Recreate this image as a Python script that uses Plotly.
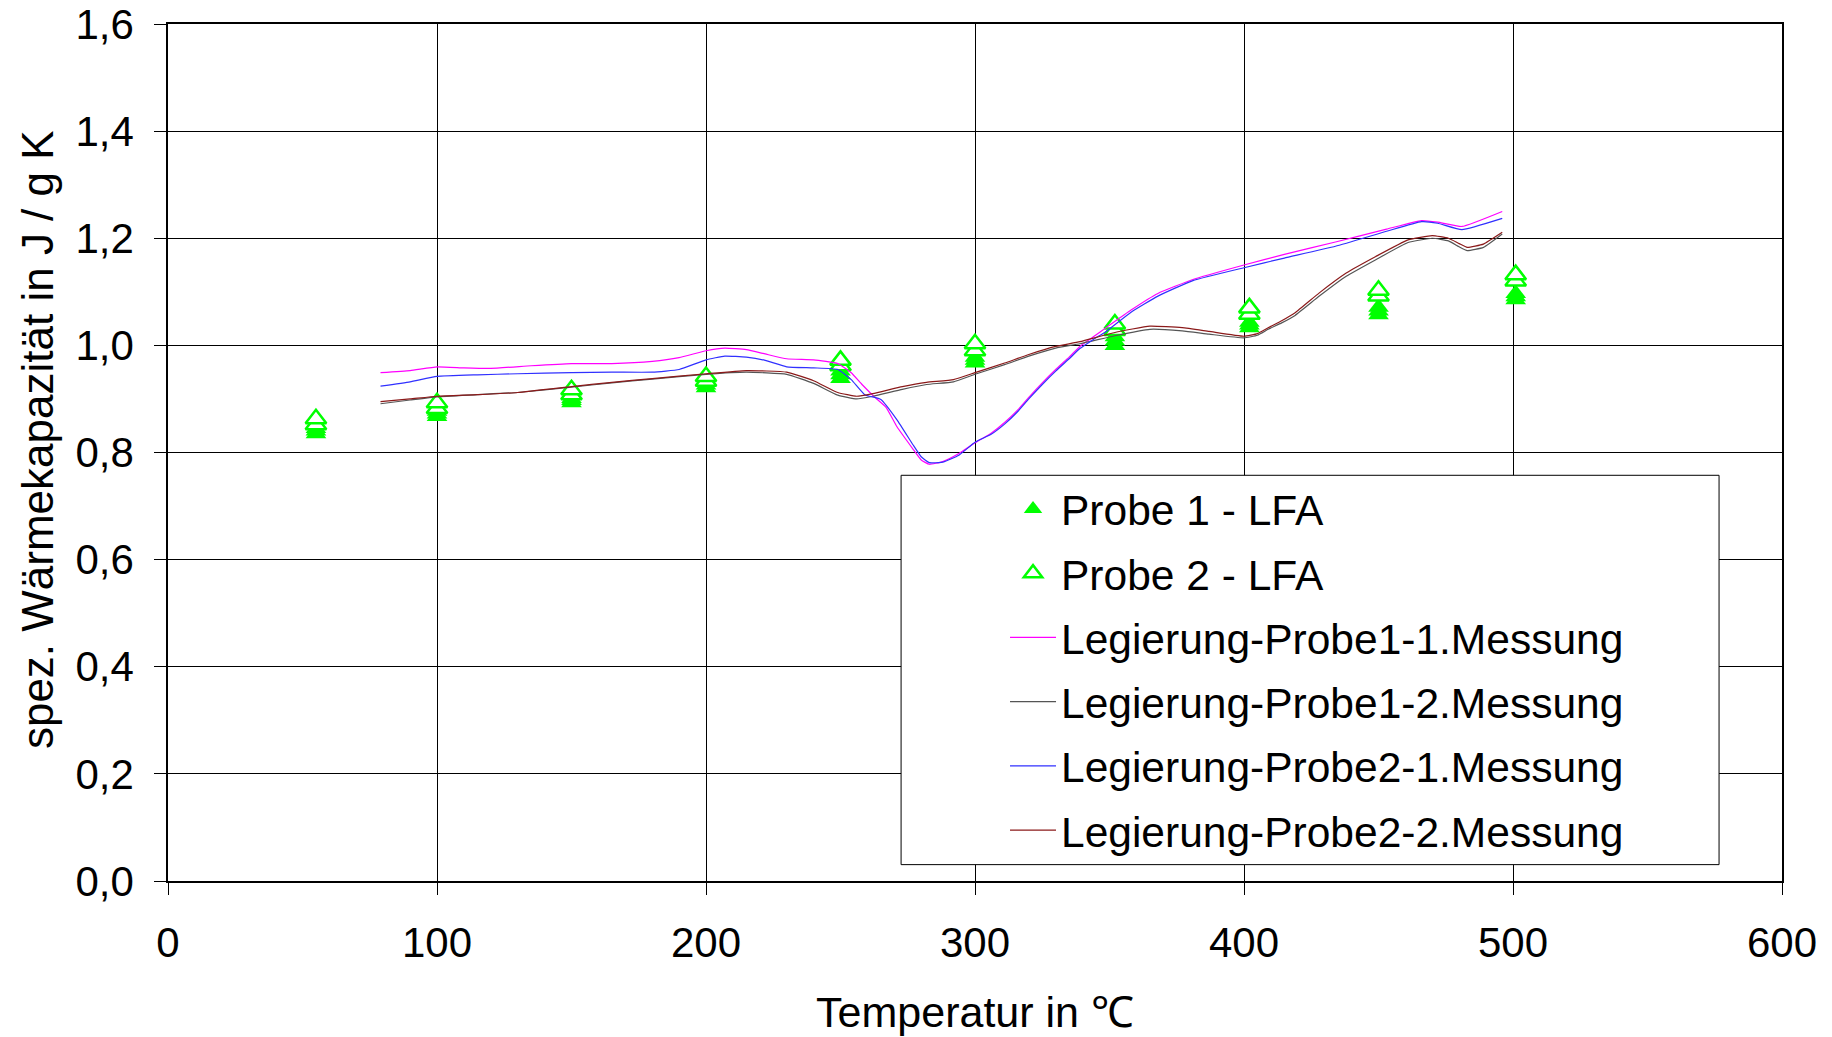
import plotly.graph_objects as go

# ---- LFA point measurements ----
p1_T = [55, 55, 55, 100, 100, 100, 150, 150, 150, 200, 200, 200, 250, 250, 250,
        300, 300, 300, 352, 352, 352, 402, 402, 402, 450, 450, 450, 501, 501, 501]
p1_cp = [0.835, 0.840, 0.845, 0.867, 0.872, 0.877, 0.893, 0.897, 0.901, 0.921, 0.926, 0.931,
         0.938, 0.945, 0.952, 0.967, 0.972, 0.978, 1.000, 1.008, 1.016, 1.033, 1.038, 1.043,
         1.057, 1.064, 1.071, 1.085, 1.091, 1.097]
p2_T = [55, 55, 100, 100, 150, 150, 200, 200, 250, 250, 300, 300, 352, 352, 402, 402,
        450, 450, 501, 501]
p2_cp = [0.852, 0.863, 0.882, 0.893, 0.908, 0.917, 0.933, 0.942, 0.962, 0.972, 0.990, 1.003,
         1.028, 1.040, 1.058, 1.070, 1.092, 1.103, 1.120, 1.132]

# ---- DSC curves ----
m11_T = [79, 90, 100, 110, 120, 135, 150, 165, 180, 190, 200, 207, 215, 222, 230, 240, 249,
         254, 258, 263, 267, 271, 277, 280, 283, 288, 294, 300, 306, 311, 316, 320, 325, 330,
         335, 339, 344, 349, 358, 368, 381, 400, 415, 434, 453, 466, 472, 481, 496]
m11_cp = [0.949, 0.953, 0.960, 0.958, 0.957, 0.962, 0.966, 0.966, 0.970, 0.977, 0.990, 0.995,
          0.992, 0.984, 0.975, 0.973, 0.966, 0.949, 0.927, 0.902, 0.884, 0.848, 0.806, 0.786,
          0.778, 0.783, 0.798, 0.818, 0.836, 0.856, 0.880, 0.903, 0.930, 0.955, 0.978, 0.998,
          1.016, 1.034, 1.066, 1.097, 1.123, 1.150, 1.170, 1.193, 1.217, 1.233, 1.230, 1.222,
          1.250]

m21_T = [79, 90, 100, 115, 130, 150, 165, 180, 190, 200, 207, 215, 222, 230, 240, 249,
         254, 259, 265, 271, 277, 280, 283, 288, 294, 300, 306, 311, 316, 320, 325, 330,
         335, 339, 344, 349, 358, 368, 381, 400, 415, 434, 453, 466, 472, 481, 496]
m21_cp = [0.924, 0.932, 0.942, 0.945, 0.947, 0.949, 0.950, 0.950, 0.955, 0.973, 0.980, 0.978,
          0.972, 0.960, 0.958, 0.955, 0.936, 0.908, 0.899, 0.861, 0.814, 0.792, 0.781, 0.782,
          0.795, 0.819, 0.834, 0.853, 0.877, 0.900, 0.927, 0.952, 0.975, 0.994, 1.011, 1.027,
          1.062, 1.092, 1.121, 1.145, 1.163, 1.185, 1.213, 1.231, 1.228, 1.216, 1.237]

m22_T = [79, 90, 100, 115, 130, 150, 165, 180, 200, 215, 230, 240, 249, 256, 262, 273, 282,
         292, 300, 311, 320, 330, 339, 352, 365, 377, 387, 400, 405, 409, 414, 419, 428, 438,
         449, 461, 470, 476, 480, 483, 489, 496]
m22_cp = [0.895, 0.900, 0.905, 0.908, 0.912, 0.923, 0.931, 0.938, 0.947, 0.953, 0.950, 0.934,
          0.912, 0.905, 0.910, 0.923, 0.931, 0.936, 0.949, 0.967, 0.983, 0.998, 1.007, 1.024,
          1.036, 1.033, 1.026, 1.017, 1.022, 1.033, 1.046, 1.061, 1.098, 1.135, 1.166, 1.197,
          1.205, 1.200, 1.190, 1.183, 1.189, 1.211]

m12_T = [79, 90, 100, 115, 130, 150, 165, 180, 200, 215, 230, 240, 249, 256, 262, 273, 282,
         292, 300, 311, 320, 330, 339, 352, 365, 377, 387, 400, 405, 409, 414, 419, 428, 438,
         449, 461, 470, 476, 480, 483, 489, 496]
m12_cp = [0.891, 0.898, 0.904, 0.908, 0.912, 0.922, 0.930, 0.937, 0.946, 0.950, 0.946, 0.929,
          0.907, 0.900, 0.905, 0.918, 0.927, 0.932, 0.946, 0.964, 0.980, 0.995, 1.003, 1.018,
          1.030, 1.027, 1.021, 1.014, 1.019, 1.030, 1.042, 1.056, 1.092, 1.129, 1.160, 1.192,
          1.200, 1.195, 1.184, 1.177, 1.183, 1.208]

x_ticks = [0, 100, 200, 300, 400, 500, 600]
y_ticks = [0.0, 0.2, 0.4, 0.6, 0.8, 1.0, 1.2, 1.4, 1.6]

FONT = "Liberation Sans, Arial, Helvetica, sans-serif"
GREEN = "#00FF00"
LINE_SHAPE = dict(shape="spline", smoothing=0.4)

fig = go.Figure()

fig.add_trace(go.Scatter(x=p1_T, y=p1_cp, mode="markers", name="Probe 1 - LFA",
                         legendgroup="a",
                         marker=dict(symbol="triangle-up", size=18, color=GREEN,
                                     line=dict(width=0))))
fig.add_trace(go.Scatter(x=p2_T, y=p2_cp, mode="markers", name="Probe 2 - LFA",
                         legendgroup="b",
                         marker=dict(symbol="triangle-up", size=18, color="white",
                                     line=dict(width=2.5, color=GREEN))))
fig.add_trace(go.Scatter(x=m11_T, y=m11_cp, mode="lines", name="Legierung-Probe1-1.Messung",
                         legendgroup="c", line=dict(color="#FF00FF", width=1.2, **LINE_SHAPE)))
fig.add_trace(go.Scatter(x=m12_T, y=m12_cp, mode="lines", name="Legierung-Probe1-2.Messung",
                         legendgroup="d", line=dict(color="#555555", width=1.2, **LINE_SHAPE)))
fig.add_trace(go.Scatter(x=m21_T, y=m21_cp, mode="lines", name="Legierung-Probe2-1.Messung",
                         legendgroup="e", line=dict(color="#3030FF", width=1.2, **LINE_SHAPE)))
fig.add_trace(go.Scatter(x=m22_T, y=m22_cp, mode="lines", name="Legierung-Probe2-2.Messung",
                         legendgroup="f", line=dict(color="#8B1A1A", width=1.2, **LINE_SHAPE)))

fig.update_layout(
    width=1832, height=1037,
    margin=dict(l=160, r=58, t=16, b=164),
    paper_bgcolor="white", plot_bgcolor="white",
    font=dict(family=FONT, color="black", size=40),
    separators=",.",
    showlegend=True,
    legend=dict(x=0.5186, y=0.474, xanchor="left", yanchor="top",
                bgcolor="rgba(0,0,0,0)", borderwidth=0,
                font=dict(size=42.5, family=FONT), tracegroupgap=6,
                itemwidth=46, traceorder="grouped"),
    shapes=[dict(type="rect", xref="paper", yref="paper",
                 x0=0.4542, x1=0.961, y0=0.0191, y1=0.4734,
                 line=dict(color="black", width=1), fillcolor="white", layer="above")],
    annotations=[dict(text="spez. Wärmekapazität in J / g K", xref="paper", yref="paper",
                      x=-0.0809, y=0.515, xanchor="center", yanchor="middle",
                      textangle=-90, showarrow=False,
                      font=dict(size=44, family=FONT, color="black"))],
)

fig.update_xaxes(range=[0, 600], tickvals=x_ticks, showgrid=True, gridcolor="black",
                 gridwidth=1, zeroline=False, showline=True, linecolor="black", linewidth=1.5,
                 mirror=True, ticks="outside", ticklen=12, tickcolor="black", automargin=False,
                 tickfont=dict(size=42, family=FONT), ticklabelstandoff=12,
                 ticklabeloverflow="allow",
                 title=dict(text="Temperatur in \u2103", font=dict(size=43, family=FONT),
                            standoff=32))
fig.update_yaxes(range=[0, 1.6], tickvals=y_ticks, tickformat=".1f", showgrid=True,
                 gridcolor="black", gridwidth=1, zeroline=False, showline=True,
                 linecolor="black", linewidth=1.5, mirror=True, ticks="outside", ticklen=12,
                 tickcolor="black", tickfont=dict(size=42, family=FONT), ticklabelstandoff=12,
                 ticklabeloverflow="allow", automargin=False)

fig.write_html("out.html")
